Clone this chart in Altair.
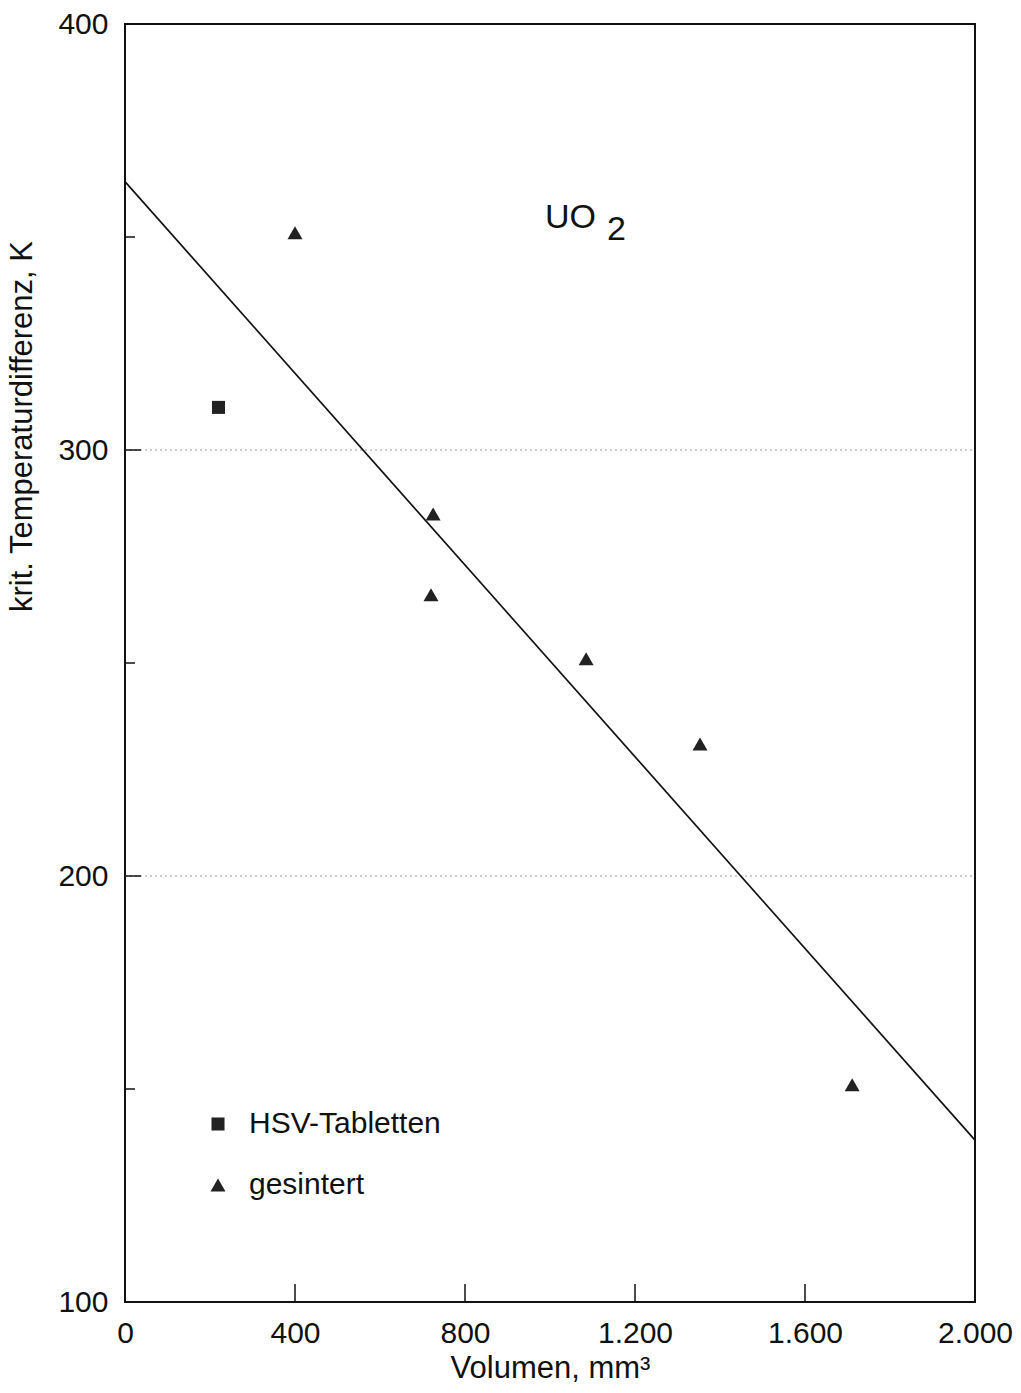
import altair as alt
import pandas as pd

# data
hsv_x = [220]
hsv_y = [310]
sint_x = [400, 725, 720, 1085, 1353, 1711]
sint_y = [351, 285, 266, 251, 231, 151]
fit_x = [0, 2000]
fit_y = [363, 138]
grid_y = [200, 300]
ytick_minor = [150, 250, 350]
xtick_vals = [400, 800, 1200, 1600]
series = ["HSV-Tabletten", "gesintert"]

W, H = 850, 1278
FONT = "Liberation Sans"

pts = pd.DataFrame({
    "x": hsv_x + sint_x,
    "y": hsv_y + sint_y,
    "Serie": [series[0]] * len(hsv_x) + [series[1]] * len(sint_x),
})
fit = pd.DataFrame({"x": fit_x, "y": fit_y})

xs = alt.Scale(domain=[0, 2000], nice=False)
ys = alt.Scale(domain=[100, 400], nice=False)

xaxis = alt.Axis(values=[0, 400, 800, 1200, 1600, 2000], ticks=False, domain=False, grid=False,
                 labelExpr="replace(format(datum.value, ','), ',', '.')", labelFlush=False,
                 labelFontSize=30, labelFont=FONT, labelColor="#111", labelPadding=16,
                 title="Volumen, mm³", titleFontSize=31, titleFont=FONT, titleFontWeight="normal",
                 titleColor="#111", titlePadding=5)
yaxis = alt.Axis(values=[100, 200, 300, 400], ticks=False, domain=False, grid=False,
                 labelFontSize=30, labelFont=FONT, labelColor="#111", labelPadding=17,
                 labelFlush=False,
                 title="krit. Temperaturdifferenz, K", titleFontSize=31, titleFont=FONT,
                 titleFontWeight="normal", titleColor="#111", titleX=-87, titleY=402)

base_axes = alt.Chart(pts).mark_point(opacity=0).encode(
    x=alt.X("x:Q", scale=xs, axis=xaxis),
    y=alt.Y("y:Q", scale=ys, axis=yaxis),
)

grid = alt.Chart(pd.DataFrame({"y": grid_y})).mark_rule(
    color="#999", strokeDash=[2, 3], strokeWidth=1
).encode(y=alt.Y("y:Q", scale=ys), x=alt.value(0), x2=alt.value(W))

gridtick = alt.Chart(pd.DataFrame({"y": grid_y})).mark_rule(
    color="#111", strokeWidth=1.5
).encode(y=alt.Y("y:Q", scale=ys), x=alt.value(0), x2=alt.value(16))

yticks = alt.Chart(pd.DataFrame({"y": ytick_minor})).mark_rule(
    color="#111", strokeWidth=1.5
).encode(y=alt.Y("y:Q", scale=ys), x=alt.value(0), x2=alt.value(10))

xticks = alt.Chart(pd.DataFrame({"x": xtick_vals})).mark_rule(
    color="#111", strokeWidth=1.5
).encode(x=alt.X("x:Q", scale=xs), y=alt.value(H), y2=alt.value(H - 18))

line = alt.Chart(fit).mark_line(color="#111", strokeWidth=1.7).encode(
    x=alt.X("x:Q", scale=xs), y=alt.Y("y:Q", scale=ys)
)

leg = alt.Legend(title=None, orient="none", legendX=78, legendY=1085,
                 labelFontSize=30, labelFont=FONT, labelColor="#111", labelLimit=0,
                 rowPadding=31, labelOffset=16, symbolFillColor="#222",
                 symbolStrokeColor="#222", symbolType="square")
points = alt.Chart(pts).mark_point(filled=True, opacity=1, color="#222").encode(
    x=alt.X("x:Q", scale=xs),
    y=alt.Y("y:Q", scale=ys),
    shape=alt.Shape("Serie:N", scale=alt.Scale(domain=series, range=["square", "triangle-up"]),
                    legend=leg),
    size=alt.Size("Serie:N", scale=alt.Scale(domain=series, range=[170, 225]), legend=leg),
)

uo = alt.Chart(pd.DataFrame({"t": ["UO"]})).mark_text(
    fontSize=34, font=FONT, align="left", baseline="alphabetic", color="#111"
).encode(text="t:N", x=alt.value(420), y=alt.value(204))
two = alt.Chart(pd.DataFrame({"t": ["2"]})).mark_text(
    fontSize=34, font=FONT, align="left", baseline="alphabetic", color="#111"
).encode(text="t:N", x=alt.value(482), y=alt.value(216))

chart = alt.layer(base_axes, grid, gridtick, yticks, xticks, line, points, uo, two).properties(
    width=W, height=H,
    autosize=alt.AutoSizeParams(type="none"),
    padding={"left": 125, "top": 24, "right": 46, "bottom": 91},
).configure_view(stroke="#111", strokeWidth=2)

chart.save("out.html", embed_options={"renderer": "svg", "actions": False})
